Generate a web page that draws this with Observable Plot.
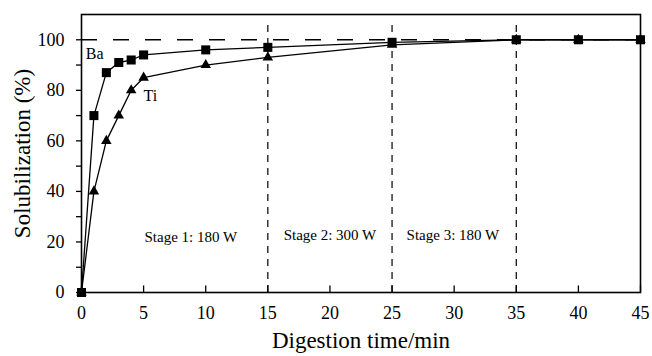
<!DOCTYPE html>
<html><head><meta charset="utf-8">
<script src="https://cdn.jsdelivr.net/npm/d3@7"></script>
<script src="https://cdn.jsdelivr.net/npm/@observablehq/plot@0.6"></script>
<style>body{margin:0;background:#fff} svg{display:block}</style>
</head><body><div id="chart"></div>
<script>
const time = [0, 1, 2, 3, 4, 5, 10, 15, 25, 35, 40, 45];
const ba = [0, 70, 87, 91, 92, 94, 96, 97, 99, 100, 100, 100];
const ti = [0, 40, 60, 70, 80, 85, 90, 93, 98, 100, 100, 100];
const xTicks = [0, 5, 10, 15, 20, 25, 30, 35, 40, 45];
const yTicks = [0, 20, 40, 60, 80, 100];
const yMinorTicks = [10, 30, 50, 70, 90];
const stageBounds = [15, 25, 35];
const stageLabels = ["Stage 1: 180 W", "Stage 2: 300 W", "Stage 3: 180 W"];
const stageLabelX = [8.8, 20, 29.9];
const stageLabelY = [22, 22.5, 22.5];
const seriesNames = ["Ba", "Ti"];
const seriesLabelX = [0.35, 5.0];
const seriesLabelY = [94.3, 77.8];
const xTitle = "Digestion time/min";
const yTitle = "Solubilization (%)";

const baData = time.map((t, i) => ({t, v: ba[i]}));
const tiData = time.map((t, i) => ({t, v: ti[i]}));
const stages = stageLabels.map((s, i) => ({s, x: stageLabelX[i], y: stageLabelY[i]}));
const names = seriesNames.map((s, i) => ({s, x: seriesLabelX[i], y: seriesLabelY[i]}));
const font = "Liberation Serif, Times New Roman, serif";

const chart = Plot.plot({
  width: 652, height: 356,
  marginLeft: 81, marginRight: 12, marginTop: 14, marginBottom: 64,
  style: {fontFamily: font, fontSize: "18px", color: "#000", background: "#fff"},
  x: {domain: [0, 45]},
  y: {domain: [0, 110]},
  marks: [
    Plot.ruleY([100], {stroke: "#000", strokeWidth: 1.3, strokeDasharray: "16,16"}),
    Plot.ruleX(stageBounds, {x: d => d, y1: 0, y2: 108, stroke: "#000", strokeWidth: 1.2, strokeDasharray: "7,6"}),
    Plot.ruleX(xTicks, {x: d => d, y1: 0, y2: 2.6, stroke: "#000", strokeWidth: 1.3}),
    Plot.axisX(xTicks, {tickSize: 0, tickPadding: 14, label: null, fontSize: 18}),
    Plot.axisY(yTicks, {tickSize: 5, tickPadding: 12, label: null, fontSize: 18, strokeWidth: 1.3}),
    Plot.axisY(yMinorTicks, {tickSize: 5, tickFormat: () => "", label: null, strokeWidth: 1.3}),
    Plot.frame({stroke: "#000", strokeWidth: 1.6}),
    Plot.line(baData, {x: "t", y: "v", stroke: "#000", strokeWidth: 1.3}),
    Plot.line(tiData, {x: "t", y: "v", stroke: "#000", strokeWidth: 1.3}),
    Plot.dot(tiData, {x: "t", y: "v", symbol: "triangle", r: 3.9, fill: "#000", stroke: "none"}),
    Plot.dot(baData, {x: "t", y: "v", symbol: "square", r: 5.1, fill: "#000", stroke: "none"}),
    Plot.text(stages, {x: "x", y: "y", text: "s", fontSize: 15, fill: "#000"}),
    Plot.text(names, {x: "x", y: "y", text: "s", fontSize: 16, textAnchor: "start", fill: "#000"}),
    Plot.text([xTitle], {text: d => d, frameAnchor: "bottom", dy: 48.6, lineAnchor: "middle", textAnchor: "middle", fontSize: 23, fill: "#000"}),
    Plot.text([yTitle], {text: d => d, frameAnchor: "left", dx: -58.4, dy: 0, rotate: -90, lineAnchor: "middle", textAnchor: "middle", fontSize: 23, fill: "#000"})
  ]
});
document.getElementById("chart").append(chart);
</script>
</body></html>
